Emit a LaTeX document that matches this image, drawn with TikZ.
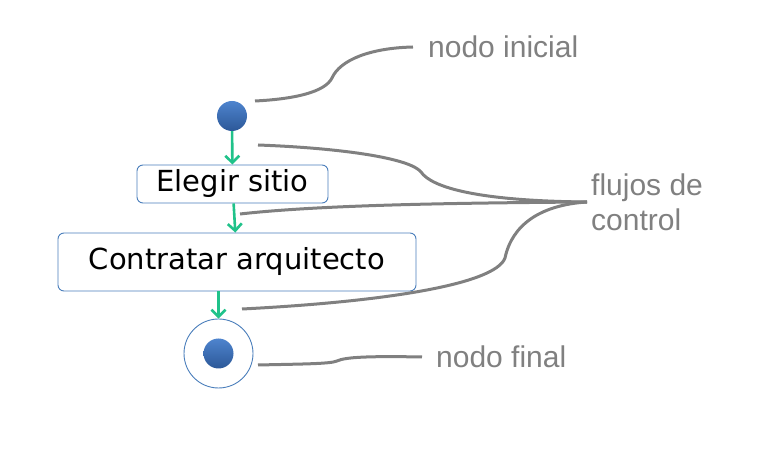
\documentclass[tikz,border=0pt]{standalone}
\usepackage{fontspec}
\setmainfont{DejaVu Sans}
\newfontfamily\notefont{Liberation Sans}
\usetikzlibrary{arrows.meta}
\definecolor{flowgreen}{RGB}{32,194,138}
\definecolor{umlblue}{RGB}{74,126,187}
\definecolor{notegray}{RGB}{128,128,128}
\definecolor{dottop}{RGB}{78,132,206}
\definecolor{dotbottom}{RGB}{44,88,152}

\begin{document}
\begin{tikzpicture}[x=1pt, y=-1pt,
  dot/.style={circle, minimum size=30pt, inner sep=0pt, top color=dottop, bottom color=dotbottom},
  action/.style={rectangle, rounded corners=6pt, draw=umlblue, line width=0.9pt, fill=white, inner sep=0pt, font=\fontsize{29}{34}\selectfont},
  endnode/.style={circle, draw=umlblue, line width=0.9pt, minimum size=69pt, inner sep=0pt},
  flow/.style={-{Straight Barb[length=7pt,width=14pt]}, draw=flowgreen, line width=2.6pt},
  note/.style={anchor=west, inner sep=0pt, align=left, text=notegray, font=\notefont\fontsize{30}{35}\selectfont},
  callout/.style={draw=notegray, line width=3pt}]
\useasboundingbox (0,0) rectangle (772,462);

\node (inicio) [dot] at (232,116) {};
\node (elegir) [action, minimum width=191pt, minimum height=38pt] at (232.5,184) {Elegir sitio};
\node (contratar) [action, minimum width=358pt, minimum height=58pt] at (237,262) {Contratar arquitecto};
\node (final) [endnode] at (218.5,353.5) {};
\node (finaldot) [dot] at (final) {};

\node (lblinicial) [note] at (428,47) {nodo inicial};
\node (lblflujos) [note] at (591,202) {flujos de\\control};
\node (lblfinal) [note] at (436,357) {nodo final};

\coordinate (iniend) at (255,101);
\coordinate (flow1end) at (258,145);
\coordinate (flow2end) at (240,214);
\coordinate (flow3end) at (242,309);
\coordinate (finend) at (258,365);
\coordinate (junction) at ([xshift=-4pt]lblflujos.west);

\draw [flow] (inicio) -- (elegir);
\draw [flow] (elegir) -- (contratar);
\draw [flow] (final |- contratar.south) -- (final);

\draw [callout] (iniend) .. controls (295,99) and (325,92) .. (332,78) .. controls (340,60) and (370,48) .. ([xshift=-15pt]lblinicial.west);
\draw [callout] (flow1end) .. controls (340,148) and (410,158) .. (421,172) .. controls (432,188) and (480,201) .. (junction);
\draw [callout] (flow2end) .. controls (320,205) and (450,203) .. (junction);
\draw [callout] (flow3end) .. controls (380,302) and (495,285) .. (505,258) .. controls (512,225) and (540,205) .. (junction);
\draw [callout] (finend) .. controls (300,364) and (330,364) .. (337,361) .. controls (345,357) and (370,356) .. ([xshift=-14pt]lblfinal.west);
\end{tikzpicture}
\end{document}
